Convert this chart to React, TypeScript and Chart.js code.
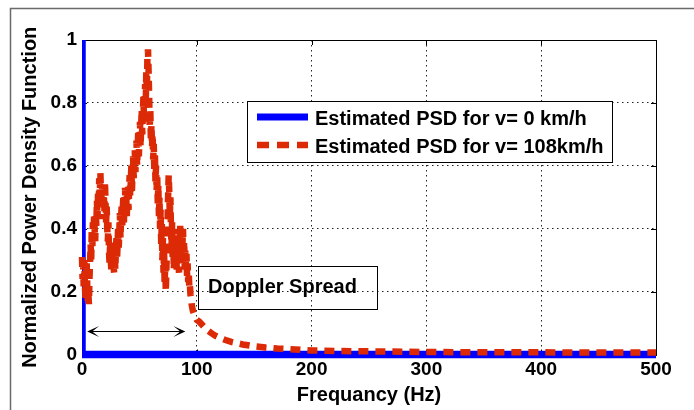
import React, { useEffect, useRef } from "react";
import { Chart, registerables } from "chart.js";

Chart.register(...registerables);

// ---------- data ----------
const xTicks = [0, 100, 200, 300, 400, 500];
const yTicks = [0, 0.2, 0.4, 0.6, 0.8, 1];
const yTickLabels = ["0", "0.2", "0.4", "0.6", "0.8", "1"];

const freqStatic = [0, 0, 500];
const psdStatic = [1, 0, 0];

const freqMoving = [
  0, 0.5, 1, 1.5, 2, 2.5, 3, 3.5, 4, 4.5, 5, 5.5, 6, 6.5, 7, 7.5, 8, 8.5, 9, 9.5,
  10, 10.5, 11, 11.5, 12, 12.5, 13, 13.5, 14, 14.5, 15, 15.5, 16, 16.5, 17, 17.5, 18, 18.5, 19, 19.5,
  20, 20.5, 21, 21.5, 22, 22.5, 23, 23.5, 24, 24.5, 25, 25.5, 26, 26.5, 27, 27.5, 28, 28.5, 29, 29.5,
  30, 30.5, 31, 31.5, 32, 32.5, 33, 33.5, 34, 34.5, 35, 35.5, 36, 36.5, 37, 37.5, 38, 38.5, 39, 39.5,
  40, 40.5, 41, 41.5, 42, 42.5, 43, 43.5, 44, 44.5, 45, 45.5, 46, 46.5, 47, 47.5, 48, 48.5, 49, 49.5,
  50, 50.5, 51, 51.5, 52, 52.5, 53, 53.5, 54, 54.5, 55, 55.5, 56, 56.5, 57, 57.5, 58, 58.5, 59, 59.5,
  60, 60.5, 61, 61.5, 62, 62.5, 63, 63.5, 64, 64.5, 65, 65.5, 66, 66.5, 67, 67.5, 68, 68.5, 69, 69.5,
  70, 70.5, 71, 71.5, 72, 72.5, 73, 73.5, 74, 74.5, 75, 75.5, 76, 76.5, 77, 77.5, 78, 78.5, 79, 79.5,
  80, 80.5, 81, 81.5, 82, 82.5, 83, 83.5, 84, 84.5, 85, 85.5, 86, 86.5, 87, 87.5, 88, 88.5, 89, 89.5,
  90, 90.5, 91, 91.5, 92, 92.5, 93, 93.5, 94, 94.5, 95, 95.5, 96, 96.5, 97, 97.5, 98, 98.5, 99, 99.5,
  100, 102, 104, 106, 108, 110, 113, 116, 120, 125, 130, 135, 140, 150, 160, 170, 180, 200, 225, 250,
  300, 350, 400, 450, 500,
];
const psdMoving = [
  0.31, 0.24, 0.29, 0.21, 0.3, 0.22, 0.18, 0.25, 0.3, 0.23, 0.17, 0.2, 0.16, 0.24, 0.29, 0.35, 0.3, 0.4, 0.34, 0.42,
  0.37, 0.44, 0.4, 0.36, 0.45, 0.41, 0.49, 0.43, 0.52, 0.47, 0.56, 0.5, 0.58, 0.52, 0.47, 0.54, 0.49, 0.43, 0.51, 0.45,
  0.55, 0.48, 0.42, 0.47, 0.4, 0.36, 0.42, 0.33, 0.29, 0.36, 0.31, 0.27, 0.34, 0.29, 0.35, 0.28, 0.26, 0.32, 0.27, 0.33,
  0.37, 0.3, 0.35, 0.41, 0.34, 0.39, 0.45, 0.37, 0.43, 0.47, 0.4, 0.46, 0.5, 0.42, 0.48, 0.53, 0.45, 0.51, 0.44, 0.49,
  0.54, 0.46, 0.52, 0.57, 0.5, 0.55, 0.6, 0.52, 0.58, 0.63, 0.56, 0.61, 0.65, 0.58, 0.63, 0.68, 0.6, 0.66, 0.71, 0.63,
  0.68, 0.74, 0.66, 0.72, 0.78, 0.7, 0.76, 0.82, 0.74, 0.8, 0.86, 0.79, 0.9, 0.84, 0.95, 0.97, 0.9, 0.82, 0.72, 0.78,
  0.68, 0.73, 0.66, 0.7, 0.62, 0.67, 0.58, 0.64, 0.55, 0.6, 0.52, 0.57, 0.48, 0.54, 0.44, 0.5, 0.4, 0.46, 0.35, 0.42,
  0.3, 0.37, 0.26, 0.33, 0.22, 0.29, 0.2, 0.27, 0.34, 0.42, 0.5, 0.57, 0.52, 0.44, 0.5, 0.4, 0.34, 0.42, 0.3, 0.37,
  0.27, 0.33, 0.4, 0.31, 0.36, 0.27, 0.33, 0.39, 0.3, 0.26, 0.35, 0.41, 0.33, 0.38, 0.29, 0.35, 0.4, 0.31, 0.36, 0.27,
  0.33, 0.28, 0.32, 0.25, 0.29, 0.23, 0.26, 0.21, 0.22, 0.19, 0.18, 0.16, 0.15, 0.14, 0.135, 0.13, 0.125, 0.12, 0.117, 0.114,
  0.11, 0.105, 0.097, 0.089, 0.082, 0.075, 0.067, 0.06, 0.053, 0.046, 0.04, 0.036, 0.032, 0.026, 0.022, 0.019, 0.017, 0.013, 0.011, 0.01,
  0.008, 0.007, 0.007, 0.006, 0.006,
];

const legendLabels = ["Estimated PSD for v= 0 km/h", "Estimated PSD for v= 108km/h"];
const annotationText = "Doppler Spread";
const arrowRange = [4.5, 90];
const arrowLevel = 0.075;
const xTitle = "Frequancy (Hz)";
const yTitle = "Normalized Power Density Function";

// ---------- style ----------
const FONT = "'Liberation Sans', Arial, Helvetica, sans-serif";
const BLUE = "#0000ff";
const RED = "#dc2a06";

const decoPlugin = {
  id: "deco",
  beforeDraw(chart: any) {
    const { ctx } = chart;
    ctx.save();
    ctx.fillStyle = "#ffffff";
    ctx.fillRect(0, 0, chart.width, chart.height);
    ctx.strokeStyle = "#6a6a6a";
    ctx.lineWidth = 1.5;
    ctx.beginPath();
    ctx.moveTo(10.5, chart.height);
    ctx.lineTo(10.5, 8.5);
    ctx.lineTo(chart.width, 8.5);
    ctx.stroke();
    ctx.restore();
  },
  beforeDatasetsDraw(chart: any) {
    const { ctx, chartArea: a, scales } = chart;
    const xs = scales.x;
    const ys = scales.y;
    ctx.save();
    ctx.strokeStyle = "#000";
    ctx.lineWidth = 1;
    ctx.setLineDash([]);
    ctx.strokeRect(Math.round(a.left) + 0.5, Math.round(a.top) + 0.5, Math.round(a.right - a.left), Math.round(a.bottom - a.top));
    ctx.beginPath();
    xTicks.forEach((v) => {
      const px = Math.round(xs.getPixelForValue(v)) + 0.5;
      ctx.moveTo(px, a.bottom);
      ctx.lineTo(px, a.bottom - 5);
      ctx.moveTo(px, a.top);
      ctx.lineTo(px, a.top + 5);
    });
    yTicks.forEach((v) => {
      const py = Math.round(ys.getPixelForValue(v)) + 0.5;
      ctx.moveTo(a.left, py);
      ctx.lineTo(a.left + 5, py);
      ctx.moveTo(a.right, py);
      ctx.lineTo(a.right - 5, py);
    });
    ctx.stroke();
    ctx.restore();
  },
  afterDatasetsDraw(chart: any) {
    const { ctx, chartArea: a, scales } = chart;
    const xs = scales.x;
    const ys = scales.y;
    ctx.save();
    // legend box
    const lx = a.left + 165;
    const ly = a.top + 61;
    const lw = 365;
    const lh = 61;
    ctx.fillStyle = "#ffffff";
    ctx.fillRect(lx, ly, lw, lh);
    ctx.strokeStyle = "#000";
    ctx.lineWidth = 1;
    ctx.strokeRect(Math.round(lx) + 0.5, Math.round(ly) + 0.5, lw, lh);
    ctx.lineCap = "butt";
    ctx.lineWidth = 7;
    ctx.strokeStyle = BLUE;
    ctx.beginPath();
    ctx.moveTo(lx + 10, ly + 16);
    ctx.lineTo(lx + 61, ly + 16);
    ctx.stroke();
    ctx.lineWidth = 6.5;
    ctx.strokeStyle = RED;
    ctx.setLineDash([12, 8]);
    ctx.beginPath();
    ctx.moveTo(lx + 10, ly + 44);
    ctx.lineTo(lx + 61, ly + 44);
    ctx.stroke();
    ctx.setLineDash([]);
    ctx.fillStyle = "#000";
    ctx.font = `bold 20px ${FONT}`;
    ctx.textBaseline = "alphabetic";
    ctx.textAlign = "left";
    ctx.fillText(legendLabels[0], lx + 68, ly + 24);
    ctx.fillText(legendLabels[1], lx + 68, ly + 52);

    // Doppler Spread annotation box
    const bx = a.left + 116;
    const by = a.top + 226;
    ctx.lineWidth = 1;
    ctx.strokeStyle = "#000";
    ctx.strokeRect(Math.round(bx) + 0.5, Math.round(by) + 0.5, 179, 43);
    ctx.fillText(annotationText, bx + 10, by + 27);

    // double arrow
    const x1 = xs.getPixelForValue(arrowRange[0]);
    const x2 = xs.getPixelForValue(arrowRange[1]);
    const yy = Math.round(ys.getPixelForValue(arrowLevel)) + 0.5;
    ctx.beginPath();
    ctx.moveTo(x1 + 4, yy);
    ctx.lineTo(x2 - 4, yy);
    ctx.stroke();
    const head = (tip: number, dir: number) => {
      ctx.beginPath();
      ctx.moveTo(tip, yy);
      ctx.lineTo(tip + dir * 12, yy - 5.5);
      ctx.lineTo(tip + dir * 5, yy);
      ctx.lineTo(tip + dir * 12, yy + 5.5);
      ctx.closePath();
      ctx.fillStyle = "#000";
      ctx.fill();
    };
    head(x1, 1);
    head(x2, -1);
    ctx.restore();
  },
};

export default function App() {
  const canvasRef = useRef<HTMLCanvasElement | null>(null);

  useEffect(() => {
    const canvas = canvasRef.current;
    if (!canvas) return;
    const staticPts = freqStatic.map((f, i) => ({ x: f, y: psdStatic[i] }));
    const movingPts = freqMoving.map((f, i) => ({ x: f, y: psdMoving[i] }));
    const tickFont = { family: FONT, size: 19, weight: "bold" as const };
    const titleFont = { family: FONT, size: 20, weight: "bold" as const };

    const chart = new Chart(canvas, {
      type: "scatter",
      data: {
        datasets: [
          {
            label: legendLabels[0],
            data: staticPts,
            showLine: true,
            borderColor: BLUE,
            backgroundColor: BLUE,
            borderWidth: 7.5,
            pointRadius: 0,
            tension: 0,
            order: 1,
            clip: { left: 0, top: 10, right: 10, bottom: 10 } as any,
            borderJoinStyle: "miter",
          },
          {
            label: legendLabels[1],
            data: movingPts,
            showLine: true,
            borderColor: RED,
            backgroundColor: RED,
            borderWidth: 6.5,
            borderDash: [10, 7],
            borderCapStyle: "butt",
            pointRadius: 0,
            tension: 0,
            order: 0,
            clip: false as any,
          },
        ],
      },
      options: {
        responsive: false,
        animation: false,
        devicePixelRatio: 1,
        layout: { padding: { left: 0, top: 40, right: 38, bottom: 0 } },
        plugins: {
          legend: { display: false },
          tooltip: { enabled: false },
        },
        scales: {
          x: {
            type: "linear",
            min: 0,
            max: 500,
            afterBuildTicks: (s: any) => {
              s.ticks = xTicks.map((v) => ({ value: v }));
            },
            afterFit: (s: any) => {
              s.height = 55.5;
            },
            ticks: {
              font: tickFont,
              color: "#000",
              padding: 4,
              maxRotation: 0,
              autoSkip: false,
              callback: (v: any) => String(v),
            },
            grid: {
              color: "#222",
              lineWidth: 1,
              drawTicks: false,
            },
            border: { display: false, dash: [1.5, 3.5] },
            title: {
              display: true,
              text: xTitle,
              font: titleFont,
              color: "#000",
              padding: { top: 0, bottom: 3 },
            },
          },
          y: {
            type: "linear",
            min: 0,
            max: 1,
            afterBuildTicks: (s: any) => {
              s.ticks = yTicks.map((v) => ({ value: v }));
            },
            afterFit: (s: any) => {
              s.width = 82;
            },
            ticks: {
              font: tickFont,
              color: "#000",
              padding: 5,
              autoSkip: false,
              callback: (v: any) => {
                const i = yTicks.indexOf(Number(v));
                return i >= 0 ? yTickLabels[i] : "";
              },
            },
            grid: {
              color: "#222",
              lineWidth: 1,
              drawTicks: false,
            },
            border: { display: false, dash: [1.5, 3.5] },
            title: {
              display: true,
              text: yTitle,
              font: titleFont,
              color: "#000",
              padding: { top: 18, bottom: 0 },
            },
          },
        },
      },
      plugins: [decoPlugin],
    });
    return () => chart.destroy();
  }, []);

  return (
    <div style={{ position: "fixed", left: 0, top: 0, width: 694, height: 410, background: "#fff" }}>
      <canvas ref={canvasRef} width={694} height={410} style={{ display: "block", width: 694, height: 410 }} />
    </div>
  );
}
